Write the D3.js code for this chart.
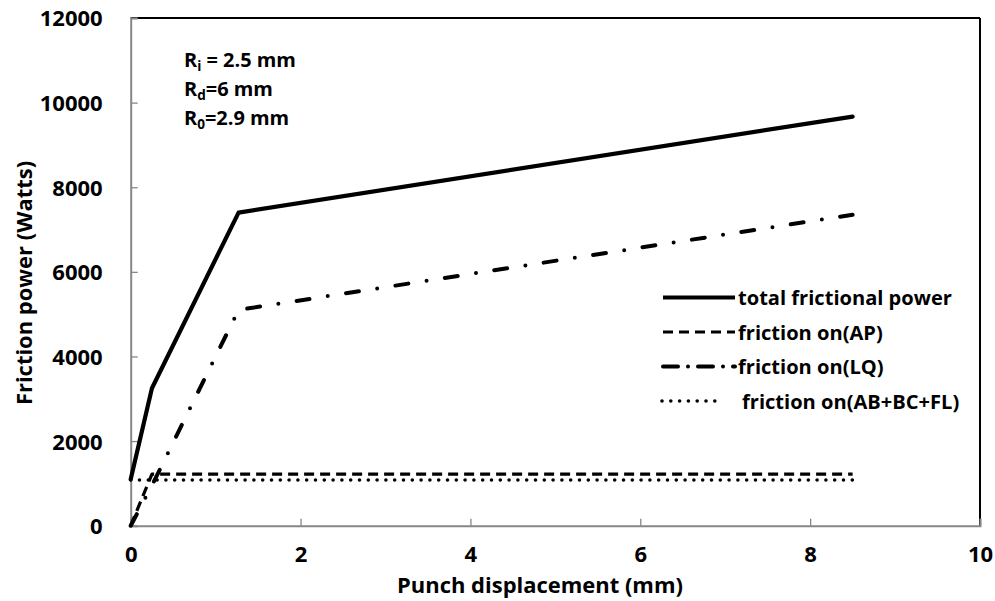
<!DOCTYPE html>
<html><head><meta charset="utf-8">
<script src="https://cdn.jsdelivr.net/npm/d3@7"></script>
<style>
body{margin:0;background:#fff;}
text{font-family:"Open Sans",sans-serif;font-weight:bold;fill:#000;}
</style></head>
<body><svg id="c" width="995" height="601"></svg>
<script>
// ---- data ----
const xTicks = [0, 2, 4, 6, 8, 10];
const yTicks = [0, 2000, 4000, 6000, 8000, 10000, 12000];
const totalX = [0, 0.25, 1.27, 8.5];
const totalY = [1100, 3250, 7400, 9670];
const apX = [0, 0.25, 8.5];
const apY = [0, 1220, 1220];
const lqX = [0, 0.25, 1.27, 8.5];
const lqY = [0, 950, 5100, 7350];
const otherX = [0, 8.5];
const otherY = [1080, 1080];
const seriesNames = ["total frictional power", "friction on(AP)", "friction on(LQ)", "friction on(AB+BC+FL)"];

const svg = d3.select("#c");
const L = 130.7, R = 980, T = 18, B = 525.7;
const x = d3.scaleLinear().domain([0, 10]).range([L, R]);
const y = d3.scaleLinear().domain([0, 12000]).range([B, T]);

// scale font so that a text node reaches a target width
function fitSize(node, target) {
  const base = 20;
  node.style.fontSize = base + "px";
  const w = node.getComputedTextLength();
  return base * target / w;
}

const styles = [
  {w: 4.2, dash: null, cap: "round"},
  {w: 3.2, dash: "10,6", cap: "butt"},
  {w: 4, dash: "13,18.5,0,18.5", cap: "round"},
  {w: 3.6, dash: "0,8.8", cap: "round"}
];
const series = [
  {xs: totalX, ys: totalY},
  {xs: apX, ys: apY},
  {xs: lqX, ys: lqY},
  {xs: otherX, ys: otherY}
];

// plot border top/right
svg.append("line").attr("x1", L).attr("x2", R).attr("y1", T).attr("y2", T).attr("stroke", "#000").attr("stroke-width", 2);
svg.append("line").attr("x1", R).attr("x2", R).attr("y1", T).attr("y2", B).attr("stroke", "#000").attr("stroke-width", 2);

// axes
const gx = svg.append("g").attr("transform", `translate(0,${B})`)
  .call(d3.axisBottom(x).tickValues(xTicks).tickSize(-7).tickPadding(0).tickFormat(d3.format("d")));
const gy = svg.append("g").attr("transform", `translate(${L},0)`)
  .call(d3.axisLeft(y).tickValues(yTicks).tickSize(-7).tickPadding(28).tickFormat(d3.format("d")));
[gx, gy].forEach(g => {
  g.select(".domain").attr("stroke", "#878787").attr("stroke-width", 2);
  g.selectAll(".tick line").attr("stroke", "#878787").attr("stroke-width", 1.3);
  g.selectAll(".tick text").style("font-family", "Open Sans").style("font-weight", "bold").attr("fill", "#000");
});
const tickNode = gy.selectAll(".tick text").filter(d => d === 12000).node();
const tickSize = fitSize(tickNode, 63);
gx.selectAll(".tick text").style("font-size", tickSize + "px").attr("y", 36).attr("dy", null);
gy.selectAll(".tick text").style("font-size", tickSize + "px").attr("dy", "0.36em");

// lines
const line = d3.line().x(d => x(d[0])).y(d => y(d[1]));
series.forEach((s, i) => {
  const pts = s.xs.map((v, j) => [v, s.ys[j]]);
  const st = styles[i];
  svg.append("path").datum(pts).attr("d", line).attr("fill", "none")
    .attr("stroke", "#000").attr("stroke-width", st.w)
    .attr("stroke-linecap", st.cap).attr("stroke-linejoin", "round")
    .attr("stroke-dasharray", st.dash);
});

// legend
const legY = [297.5, 332, 366.5, 401];
const legTexts = [];
seriesNames.forEach((n, i) => {
  const st = styles[i];
  svg.append("line").attr("x1", i === 3 ? 662 : 663).attr("x2", i === 3 ? 722 : 735).attr("y1", legY[i]).attr("y2", legY[i])
    .attr("stroke", "#000").attr("stroke-width", st.w).attr("stroke-linecap", i === 0 ? "butt" : st.cap)
    .attr("stroke-dasharray", i === 2 ? "15,10,0,10" : st.dash);
  legTexts.push(svg.append("text").attr("x", i === 3 ? 742 : 738).attr("y", legY[i] + 7.5).text(n));
});
const legSize = fitSize(legTexts[0].node(), 214);
legTexts.forEach(t => t.style("font-size", legSize + "px"));

// axis titles
const xt = svg.append("text").attr("x", 540).attr("y", 593).attr("text-anchor", "middle").text("Punch displacement (mm)");
const titleSize = fitSize(xt.node(), 286);
xt.style("font-size", titleSize + "px");
svg.append("text").attr("transform", "translate(32,283) rotate(-90)").attr("text-anchor", "middle")
  .style("font-size", titleSize + "px").text("Friction power (Watts)");

// annotation
const ann = svg.append("g");
const a1 = ann.append("text").attr("x", 184).attr("y", 67);
a1.append("tspan").text("R");
a1.append("tspan").attr("dy", 4).attr("class", "sub").text("i");
a1.append("tspan").attr("dy", -4).text(" = 2.5 mm");
const a2 = ann.append("text").attr("x", 184).attr("y", 96);
a2.append("tspan").text("R");
a2.append("tspan").attr("dy", 4).attr("class", "sub").text("d");
a2.append("tspan").attr("dy", -4).text("=6 mm");
const a3 = ann.append("text").attr("x", 184).attr("y", 125);
a3.append("tspan").text("R");
a3.append("tspan").attr("dy", 4).attr("class", "sub").text("0");
a3.append("tspan").attr("dy", -4).text("=2.9 mm");
ann.selectAll(".sub").style("font-size", "0.68em");
const annSize = fitSize(a1.node(), 112);
ann.selectAll("text").style("font-size", annSize + "px");
</script></body></html>
